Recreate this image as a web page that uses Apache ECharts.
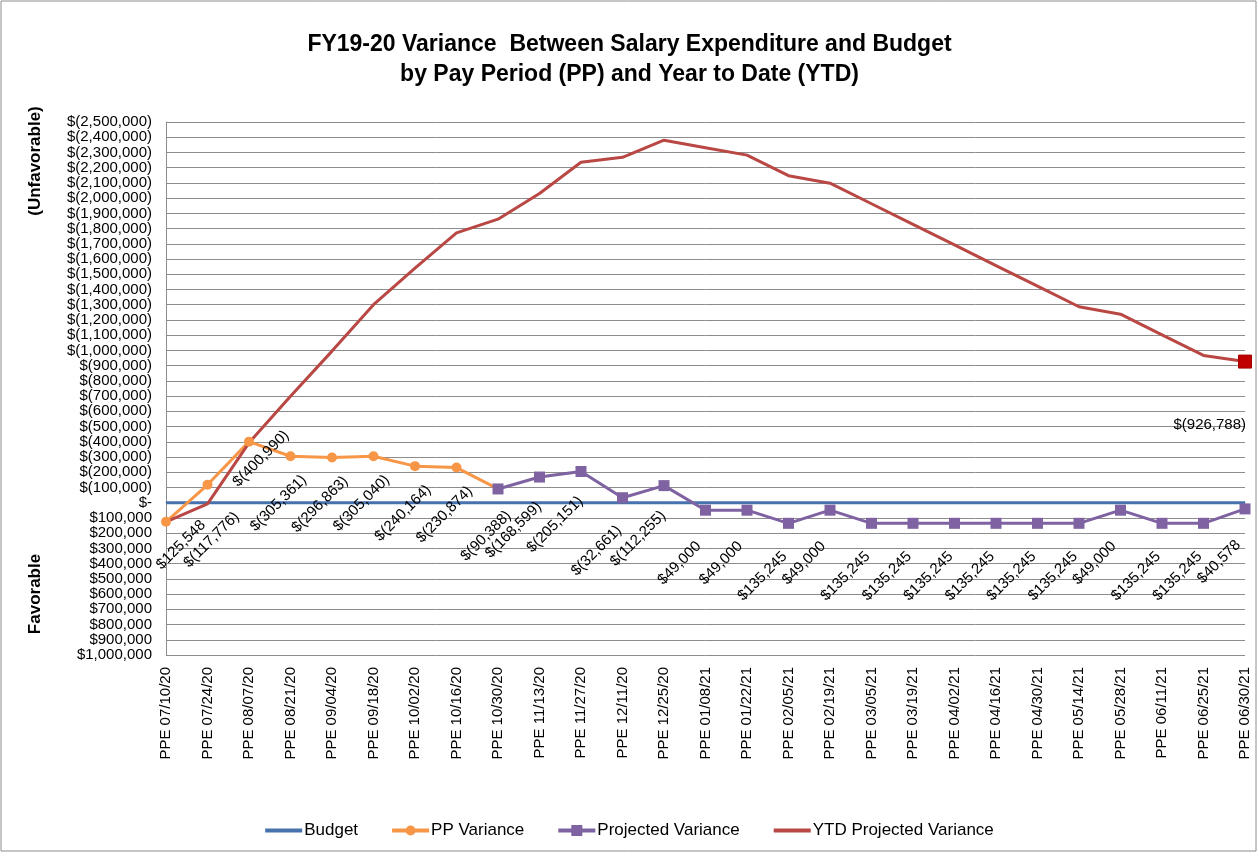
<!DOCTYPE html>
<html><head><meta charset="utf-8">
<script src="https://cdn.jsdelivr.net/npm/echarts@6/dist/echarts.min.js"></script>
<style>html,body{margin:0;padding:0;background:#fff}#c{width:1259px;height:856px}</style>
</head><body><div id="c"></div>
<script>
const categories = ['PPE 07/10/20','PPE 07/24/20','PPE 08/07/20','PPE 08/21/20','PPE 09/04/20','PPE 09/18/20','PPE 10/02/20','PPE 10/16/20','PPE 10/30/20','PPE 11/13/20','PPE 11/27/20','PPE 12/11/20','PPE 12/25/20','PPE 01/08/21','PPE 01/22/21','PPE 02/05/21','PPE 02/19/21','PPE 03/05/21','PPE 03/19/21','PPE 04/02/21','PPE 04/16/21','PPE 04/30/21','PPE 05/14/21','PPE 05/28/21','PPE 06/11/21','PPE 06/25/21','PPE 06/30/21'];
const budget = [0,0,0,0,0,0,0,0,0,0,0,0,0,0,0,0,0,0,0,0,0,0,0,0,0,0,0];
const ppVariance = [-125548,117776,400990,305361,296863,305040,240164,230874,90388,'-','-','-','-','-','-','-','-','-','-','-','-','-','-','-','-','-','-'];
const projectedVariance = ['-','-','-','-','-','-','-','-',90388,168599,205151,32661,112255,-49000,-49000,-135245,-49000,-135245,-135245,-135245,-135245,-135245,-135245,-49000,-135245,-135245,-40578];
const ytdVariance = [-125548,-7772,393218,698579,995442,1300482,1540646,1771520,1861908,2030507,2235658,2268319,2380574,2331574,2282574,2147329,2098329,1963084,1827839,1692594,1557349,1422104,1286859,1237859,1102614,967369,926788];
const yMin = -1000000, yMax = 2500000, yStep = 100000;
const seriesNames = ['Budget','PP Variance','Projected Variance','YTD Projected Variance'];

const FONT = "'Liberation Sans', Arial, sans-serif";
function money(v){
  if (v === 0) return '$-';
  const s = Math.abs(Math.round(v)).toLocaleString('en-US');
  return v > 0 ? '$(' + s + ')' : '$' + s;
}
const labelFmt = p => money(p.value);
// label offsets are given in screen space, converted into the 45deg-rotated label frame
function rotOffset(dx, dy){
  const c = Math.SQRT1_2;
  return [(dx - dy) * c, (dx + dy) * c];
}

// a few labels in the original were nudged individually
const ppLabelNudge = {0: [15, 23], 1: [4, 55], 2: [12, 17]};
const ppData = ppVariance.map((v,i) => ppLabelNudge[i] ? {value: v, label: {offset: rotOffset(ppLabelNudge[i][0], ppLabelNudge[i][1])}} : v);

const lastIdx = ytdVariance.length - 1;
const projData = projectedVariance.map((v,i) => i === 8 ? {value: v, label: {show: false}} : v);
const ytdData = ytdVariance.map((v,i) => i === lastIdx ? {
  value: v, symbol: 'rect', symbolSize: 13,
  itemStyle: {color: '#C00000', borderColor: '#A00000', borderWidth: 1},
  label: {show: true, position: 'inside', align: 'right', verticalAlign: 'middle', offset: [1, 63], fontSize: 15, color: '#000', fontFamily: FONT, formatter: labelFmt}
} : v);

const PAD = ' M0,0 L0.01,0 L0,0.01 Z M37,11 L36.99,11 L37,10.99 Z';
const LINE = 'M0,3.5 L37,3.5 L37,7.5 L0,7.5 Z';
const iconLine = 'path://' + LINE + PAD;
const iconCircle = 'path://' + LINE + ' M13.5,5.5 A5,5 0 1,1 23.5,5.5 A5,5 0 1,1 13.5,5.5 Z' + PAD;
const iconSquare = 'path://' + LINE + ' M13,0 L24,0 L24,11 L13,11 Z' + PAD;

const chart = echarts.init(document.getElementById('c'), null, {renderer: 'canvas'});
chart.setOption({
  backgroundColor: '#fff',
  animation: false,
  title: {
    text: 'FY19-20 Variance  Between Salary Expenditure and Budget\nby Pay Period (PP) and Year to Date (YTD)',
    left: 'center', top: 25,
    textStyle: {fontFamily: FONT, fontSize: 23, fontWeight: 'bold', color: '#000', lineHeight: 30}
  },
  graphic: [
    {type: 'rect', shape: {x: 1, y: 1, width: 1255, height: 850}, style: {fill: 'none', stroke: '#8c8c8c', lineWidth: 1}, silent: true},
    {type: 'text', x: 35, y: 161, rotation: Math.PI/2, style: {text: '(Unfavorable)', font: "bold 17px " + FONT, fill: '#000', textAlign: 'center', textVerticalAlign: 'middle'}},
    {type: 'text', x: 35, y: 594, rotation: Math.PI/2, style: {text: 'Favorable', font: "bold 17px " + FONT, fill: '#000', textAlign: 'center', textVerticalAlign: 'middle'}}
  ],
  legend: {
    data: [
      {name: 'Budget', icon: iconLine},
      {name: 'PP Variance', icon: iconCircle},
      {name: 'Projected Variance', icon: iconSquare},
      {name: 'YTD Projected Variance', icon: iconLine}
    ],
    bottom: 12, left: 'center',
    itemWidth: 37, itemHeight: 11, itemGap: 34,
    textStyle: {fontFamily: FONT, fontSize: 17, color: '#000', padding: [0,0,0,-3]}
  },
  grid: {left: 166, right: 14, top: 122, bottom: 201, containLabel: false},
  xAxis: {
    type: 'category', data: categories, boundaryGap: false,
    axisLine: {show: true, lineStyle: {color: '#8c8c8c', width: 1}},
    axisTick: {show: false},
    axisLabel: {rotate: 90, margin: 12, fontSize: 15, color: '#000', fontFamily: FONT, interval: 0}
  },
  yAxis: {
    type: 'value', min: yMin, max: yMax, interval: yStep,
    axisLine: {show: true, lineStyle: {color: '#8c8c8c', width: 1}},
    axisTick: {show: false},
    splitLine: {show: true, lineStyle: {color: '#8c8c8c', width: 1}},
    axisLabel: {margin: 14, fontSize: 15, color: '#000', fontFamily: FONT, formatter: v => money(v)}
  },
  series: [
    {name: 'Budget', type: 'line', data: budget, symbol: 'none', lineStyle: {color: '#4672AE', width: 3}, itemStyle: {color: '#4672AE'}},
    {name: 'PP Variance', type: 'line', data: ppData, symbol: 'circle', symbolSize: 10,
     lineStyle: {color: '#F79646', width: 3}, itemStyle: {color: '#F79646'},
     label: {show: true, position: 'inside', rotate: 45, align: 'center', verticalAlign: 'middle', offset: rotOffset(-12, 47), fontSize: 15, color: '#000', fontFamily: FONT, formatter: labelFmt}},
    {name: 'Projected Variance', type: 'line', data: projData, symbol: 'rect', symbolSize: 11,
     lineStyle: {color: '#7E62A1', width: 3}, itemStyle: {color: '#7E62A1'},
     label: {show: true, position: 'inside', rotate: 45, align: 'center', verticalAlign: 'middle', offset: rotOffset(-26, 53), fontSize: 15, color: '#000', fontFamily: FONT, formatter: labelFmt}},
    {name: 'YTD Projected Variance', type: 'line', data: ytdData, symbol: 'none',
     lineStyle: {color: '#B94744', width: 3}, itemStyle: {color: '#B94744'},
     label: {show: false}}
  ]
});
</script>
</body></html>
